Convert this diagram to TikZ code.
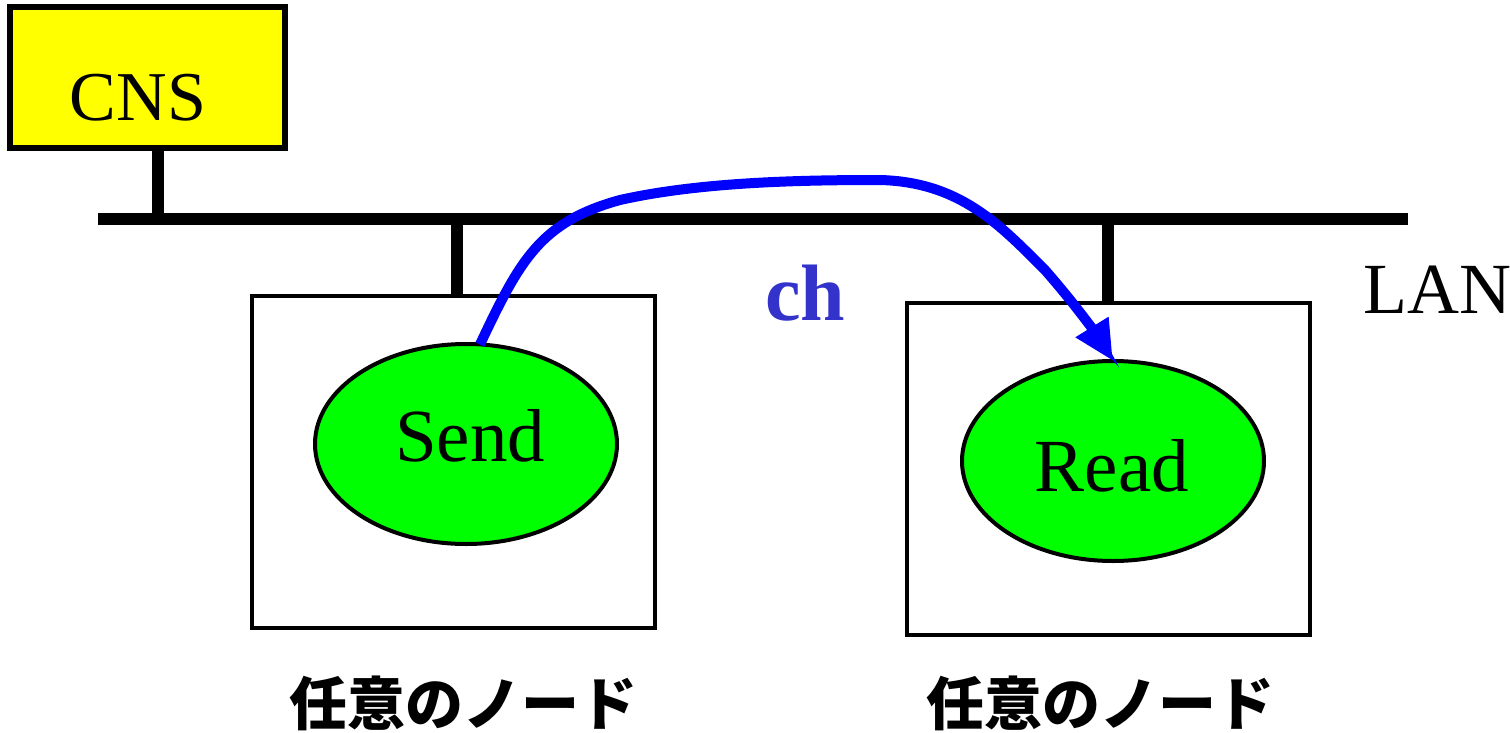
\documentclass[tikz,border=0pt]{standalone}
\usepackage{fontspec}
\setmainfont{Liberation Serif}
\newfontfamily\jpfont{Noto Sans CJK JP}
\usetikzlibrary{arrows.meta,shapes.geometric}
\definecolor{cnsyellow}{RGB}{255,255,0}
\definecolor{procgreen}{RGB}{0,255,0}
\definecolor{chblue}{RGB}{51,51,204}
\tikzset{
  wire/.style={line width=6pt},
  hostbox/.style={draw,line width=2pt,minimum width=201.5pt,minimum height=166pt,inner sep=0pt,outer sep=0pt},
  proc/.style={ellipse,draw,line width=2pt,fill=procgreen,minimum width=151pt,minimum height=100pt,inner sep=0pt,outer sep=0pt},
  proctext/.style={font=\fontsize{37.5}{40}\selectfont},
  jplabel/.style={font=\jpfont\bfseries\fontsize{29}{32}\selectfont},
  msg/.style={line width=5pt,blue,-{Triangle[length=20pt,width=18pt]}}
}
\begin{document}
\begin{tikzpicture}[x=0.5pt,y=-0.5pt]
\useasboundingbox (0,0) rectangle (1510,733);
% CNS
\node[draw,line width=3pt,fill=cnsyellow,minimum width=137.5pt,minimum height=70.5pt,inner sep=0pt,outer sep=0pt] (cns) at (147.5,77.5) {};
\node[font=\fontsize{35}{38}\selectfont] (cnslabel) at (138,98) {CNS};
% LAN
\coordinate (lanL) at (98,219);
\coordinate (lanR) at (1408,219);
\draw[wire] (lanL) -- (lanR);
\node[font=\fontsize{36}{40}\selectfont] (lan) at (1437,290) {LAN};
% hosts
\node[hostbox] (hostA) at (453.5,462) {};
\node[hostbox] (hostB) at (1108.5,468.5) {};
\coordinate (tapC) at (158,219);
\coordinate (tapA) at (457,219);
\coordinate (tapB) at (1108,219);
\draw[wire] (cns.south -| tapC) -- (tapC);
\draw[wire] (tapA) -- (tapA |- hostA.north);
\draw[wire] (tapB) -- (tapB |- hostB.north);
% processes
\node[proc] (send) at (466,444) {};
\node[proc] (read) at (1113,461) {};
\node[proctext] (sendlabel) at (470,436) {Send};
\node[proctext] (readlabel) at (1112,466) {Read};
% message
\draw[msg] (send.82) .. controls (520,260) and (540,222) .. (620,200)
  .. controls (700,182) and (800,180) .. (880,180)
  .. controls (960,182) and (1000,225) .. (1045,270)
  .. controls (1080,310) and (1100,340) .. (read.north);
\node[font=\bfseries\fontsize{40}{44}\selectfont,text=chblue] (ch) at (805,293) {ch};
% labels
\node[jplabel] (labA) at (463,703) {任意のノード};
\node[jplabel] (labB) at (1100,703) {任意のノード};
\end{tikzpicture}
\end{document}
